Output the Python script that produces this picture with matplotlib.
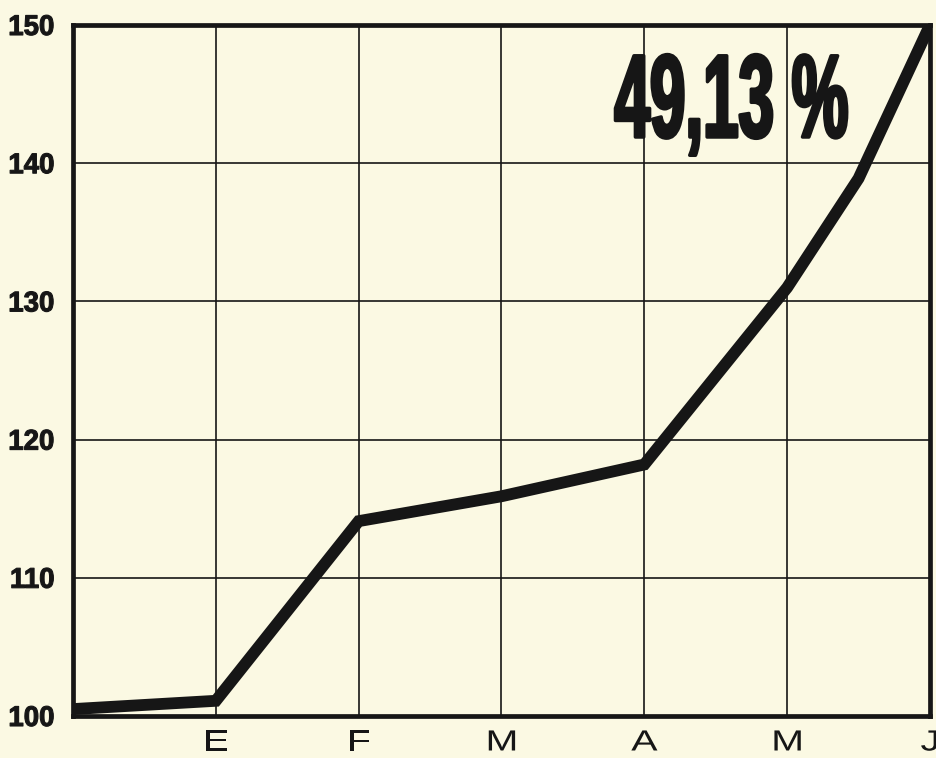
import matplotlib
matplotlib.use("Agg")
import matplotlib.pyplot as plt
import matplotlib.patheffects as pe
from matplotlib.transforms import Affine2D

# ---------------------------------------------------------------------
# Data (index 100 at the start of the year)
# ---------------------------------------------------------------------
MONTH_POS = [1, 2, 3, 4, 5, 6]
MONTH_LABELS = ["E", "F", "M", "A", "M", "J"]
Y_TICKS = [100, 110, 120, 130, 140, 150]

SERIES_X = [0, 1, 2, 3, 4, 5, 5.5, 6]
SERIES_Y = [100.5, 101.1, 114.1, 115.9, 118.2, 131.0, 138.9, 150.0]

HEADLINE = "49,13 %"

PAPER = "#fbf9e3"
INK = "#161616"


class Squeeze(pe.Stroke):
    """Stroke that also rescales the glyphs horizontally around their centre."""

    def __init__(self, sx, **kw):
        super().__init__(**kw)
        self.sx = sx

    def draw_path(self, renderer, gc, tpath, affine, rgbFace=None):
        xs = tpath.vertices[:, 0]
        cx = (xs.min() + xs.max()) / 2 if len(xs) else 0.0
        sq = Affine2D().translate(-cx, 0).scale(self.sx, 1).translate(cx, 0)
        gc0 = renderer.new_gc()
        gc0.copy_properties(gc)
        gc0 = self._update_gc(gc0, self._gc)
        renderer.draw_path(gc0, tpath, sq + affine, rgbFace)
        gc0.restore()


fig = plt.figure(figsize=(9.37, 7.58), dpi=100, facecolor=PAPER)
W, H = 937, 758
ax = fig.add_axes([73 / W, 1 - 716 / H, (930 - 73) / W, (716 - 25) / H])
ax.set_facecolor(PAPER)

ax.plot(SERIES_X, SERIES_Y, color=INK, lw=8.5,
        solid_joinstyle="miter", solid_capstyle="butt", zorder=3)

ax.set_xlim(0, 6)
ax.set_ylim(100, 150)
ax.set_xticks(MONTH_POS, MONTH_LABELS)
ax.set_yticks(Y_TICKS)
ax.grid(True, color=INK, lw=1.2, zorder=1)
ax.set_axisbelow(True)
for s in ax.spines.values():
    s.set_linewidth(3.4)
    s.set_color(INK)
    s.set_zorder(4)

ax.tick_params(axis="x", length=0, pad=9, labelsize=21, labelcolor=INK)
ax.tick_params(axis="y", length=0, pad=13, labelsize=20.5, labelcolor=INK)
for lbl in ax.get_xticklabels():
    lbl.set_fontfamily("Liberation Sans")
    lbl.set_path_effects([Squeeze(1.35, linewidth=0)])
for lbl in ax.get_yticklabels():
    lbl.set_fontfamily("Liberation Sans")
    lbl.set_fontweight("bold")
    lbl.set_path_effects([Squeeze(0.97, linewidth=0.8, foreground=INK)])

fig.text(732 / W, 1 - 137 / H, HEADLINE, ha="center", va="baseline",
         fontsize=85, fontweight="bold", family="Liberation Sans", color=INK,
         path_effects=[Squeeze(0.54, linewidth=2.5, foreground=INK)], zorder=5)

fig.savefig("out.png", dpi=100, facecolor=PAPER)
